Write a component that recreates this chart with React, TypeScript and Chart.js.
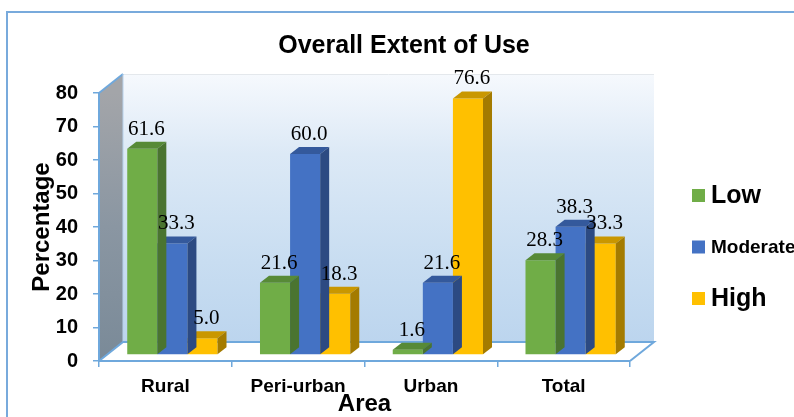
import React, { useEffect, useRef } from 'react';
import { Chart, registerables } from 'chart.js';

Chart.register(...registerables);

const categories = ['Rural', 'Peri-urban', 'Urban', 'Total'];
const lowValues = [61.6, 21.6, 1.6, 28.3];
const moderateValues = [33.3, 60.0, 21.6, 38.3];
const highValues = [5.0, 18.3, 76.6, 33.3];
const seriesNames = ['Low', 'Moderate', 'High'];
const chartTitle = 'Overall Extent of Use';
const yAxisTitle = 'Percentage';
const xAxisTitle = 'Area';

const SANS = '"Liberation Sans", Arial, sans-serif';
const SERIF = '"Liberation Serif", "Times New Roman", serif';
const FRONT = ['#70AD47', '#4472C4', '#FFC000'];
const TOP = ['#578a37', '#34599c', '#c99700'];
const SIDE = ['#4a7430', '#2c4a82', '#a47b00'];
const AXIS_BLUE = '#6fa8dc';

// 3D geometry (pixels)
const WALL_DX = 24;
const WALL_DY = 19;
const BAR_SHIFT_X = 7;
const BAR_SHIFT_Y = 6;
const BAR_DX = 9;
const BAR_DY = 7;

const backgroundPlugin = {
  id: 'bg3d',
  beforeDraw(chart: any) {
    const { ctx, chartArea: a, width, height } = chart;
    ctx.save();
    ctx.fillStyle = '#ffffff';
    ctx.fillRect(0, 0, width, height);

    // outer frame
    ctx.strokeStyle = '#78aadc';
    ctx.lineWidth = 2;
    ctx.strokeRect(7, 12, width + 20, height + 20);

    // back wall
    const wt = a.top - WALL_DY;
    const wb = a.bottom - WALL_DY;
    const g = ctx.createLinearGradient(0, wt, 0, wb);
    g.addColorStop(0, '#f6f9fd');
    g.addColorStop(0.3, '#dce9f6');
    g.addColorStop(0.7, '#c8ddf1');
    g.addColorStop(1, '#bcd5ee');
    ctx.fillStyle = g;
    ctx.fillRect(a.left + WALL_DX, wt, a.right - a.left, a.bottom - a.top);
    ctx.strokeStyle = '#e4e8ec';
    ctx.lineWidth = 1;
    ctx.beginPath();
    ctx.moveTo(a.left + WALL_DX, wt + 0.5);
    ctx.lineTo(a.right + WALL_DX, wt + 0.5);
    ctx.stroke();

    // left wall
    const lg = ctx.createLinearGradient(0, a.top, 0, a.bottom);
    lg.addColorStop(0, '#a3a5a9');
    lg.addColorStop(0.5, '#8a96a2');
    lg.addColorStop(1, '#7a8a98');
    ctx.fillStyle = lg;
    ctx.beginPath();
    ctx.moveTo(a.left, a.top);
    ctx.lineTo(a.left + WALL_DX, wt);
    ctx.lineTo(a.left + WALL_DX, wb);
    ctx.lineTo(a.left, a.bottom);
    ctx.closePath();
    ctx.fill();
    ctx.strokeStyle = AXIS_BLUE;
    ctx.lineWidth = 2;
    ctx.beginPath();
    ctx.moveTo(a.left, a.top);
    ctx.lineTo(a.left + WALL_DX, wt);
    ctx.stroke();
    ctx.strokeStyle = '#b8d2ec';
    ctx.lineWidth = 1;
    ctx.beginPath();
    ctx.moveTo(a.left + WALL_DX, wt);
    ctx.lineTo(a.left + WALL_DX, wb);
    ctx.stroke();

    // floor
    ctx.fillStyle = '#ffffff';
    ctx.beginPath();
    ctx.moveTo(a.left, a.bottom);
    ctx.lineTo(a.left + WALL_DX, wb);
    ctx.lineTo(a.right + WALL_DX, wb);
    ctx.lineTo(a.right, a.bottom);
    ctx.closePath();
    ctx.fill();
    ctx.strokeStyle = AXIS_BLUE;
    ctx.lineWidth = 2;
    ctx.beginPath();
    ctx.moveTo(a.left, a.bottom);
    ctx.lineTo(a.left + WALL_DX, wb);
    ctx.lineTo(a.right + WALL_DX, wb);
    ctx.lineTo(a.right, a.bottom);
    ctx.stroke();
    ctx.restore();
  },
  beforeDatasetsDraw(chart: any) {
    chart.ctx.save();
    chart.ctx.translate(BAR_SHIFT_X, -BAR_SHIFT_Y);
  },
  afterDatasetDraw(chart: any, args: any) {
    const ctx = chart.ctx;
    const i = args.index;
    args.meta.data.forEach((el: any) => {
      const { x, y, base, width } = el.getProps(['x', 'y', 'base', 'width'], true);
      const l = x - width / 2;
      const r = x + width / 2;
      ctx.fillStyle = TOP[i];
      ctx.beginPath();
      ctx.moveTo(l, y);
      ctx.lineTo(l + BAR_DX, y - BAR_DY);
      ctx.lineTo(r + BAR_DX, y - BAR_DY);
      ctx.lineTo(r, y);
      ctx.closePath();
      ctx.fill();
      ctx.fillStyle = SIDE[i];
      ctx.beginPath();
      ctx.moveTo(r, y);
      ctx.lineTo(r + BAR_DX, y - BAR_DY);
      ctx.lineTo(r + BAR_DX, base - BAR_DY);
      ctx.lineTo(r, base);
      ctx.closePath();
      ctx.fill();
    });
  },
  afterDatasetsDraw(chart: any) {
    const ctx = chart.ctx;
    ctx.font = `21px ${SERIF}`;
    ctx.fillStyle = '#000';
    ctx.textAlign = 'center';
    ctx.textBaseline = 'alphabetic';
    chart.data.datasets.forEach((ds: any, di: number) => {
      const meta = chart.getDatasetMeta(di);
      meta.data.forEach((el: any, j: number) => {
        const { x, y } = el.getProps(['x', 'y'], true);
        ctx.fillText(Number(ds.data[j]).toFixed(1), x + 4, y - 14);
      });
    });
    ctx.restore();
  },
  afterDraw(chart: any) {
    const { ctx, chartArea: a } = chart;
    ctx.save();
    // title
    ctx.fillStyle = '#000';
    ctx.font = `bold 25px ${SANS}`;
    ctx.textAlign = 'center';
    ctx.textBaseline = 'alphabetic';
    ctx.fillText(chartTitle, 404, 53);
    // legend
    const sizes = [25, 19, 25];
    const legendX = a.right + 62;
    const legendTop = 195.5;
    const gap = 51.5;
    ctx.textAlign = 'left';
    ctx.textBaseline = 'middle';
    chart.data.datasets.forEach((ds: any, i: number) => {
      const cy = legendTop + i * gap;
      ctx.fillStyle = FRONT[i];
      ctx.fillRect(legendX, cy - 6.5, 13, 13);
      ctx.fillStyle = '#000';
      ctx.font = `bold ${sizes[i]}px ${SANS}`;
      ctx.fillText(ds.label, legendX + 19, cy + 1);
    });
    ctx.restore();
  },
};

export default function App() {
  const ref = useRef<HTMLCanvasElement>(null);
  useEffect(() => {
    const canvas = ref.current;
    if (!canvas) return;
    const chart = new Chart(canvas, {
      type: 'bar',
      data: {
        labels: categories,
        datasets: [lowValues, moderateValues, highValues].map((vals, i) => ({
          label: seriesNames[i],
          data: vals,
          backgroundColor: FRONT[i],
          borderWidth: 0,
          clip: false as any,
          categoryPercentage: 0.68,
          barPercentage: 1,
        })),
      },
      options: {
        responsive: false,
        animation: false,
        events: [],
        layout: { padding: { top: 93, right: 164, bottom: 0, left: 0 } },
        plugins: {
          legend: { display: false },
          title: { display: false },
          tooltip: { enabled: false },
        },
        scales: {
          x: {
            grid: {
              drawOnChartArea: false,
              drawTicks: true,
              tickLength: 6,
              color: AXIS_BLUE,
              lineWidth: 1.5,
            },
            border: { display: true, color: AXIS_BLUE, width: 2 },
            ticks: {
              color: '#000',
              font: { family: SANS, size: 19, weight: 'bold' },
              padding: 8,
            },
            title: {
              display: true,
              text: xAxisTitle,
              color: '#000',
              font: { family: SANS, size: 24, weight: 'bold', lineHeight: 1 },
              padding: { top: 0, bottom: 1 },
            },
            afterFit: (s: any) => {
              s.height = 56;
            },
          },
          y: {
            min: 0,
            max: 80,
            ticks: {
              stepSize: 10,
              color: '#000',
              font: { family: SANS, size: 20, weight: 'bold' },
              padding: 15,
            },
            grid: {
              drawOnChartArea: false,
              drawTicks: true,
              tickLength: 6,
              color: AXIS_BLUE,
              lineWidth: 1.5,
            },
            border: { display: true, color: AXIS_BLUE, width: 2 },
            title: {
              display: true,
              text: yAxisTitle,
              color: '#000',
              font: { family: SANS, size: 24, weight: 'bold', lineHeight: 1.2 },
              padding: { top: 28, bottom: 0 },
            },
            afterFit: (s: any) => {
              s.width = 99;
            },
          },
        },
      },
      plugins: [backgroundPlugin],
    });
    return () => chart.destroy();
  }, []);
  return (
    <div style={{ position: 'fixed', left: 0, top: 0, width: 794, height: 417, background: '#fff' }}>
      <canvas ref={ref} width={794} height={417} style={{ display: 'block' }} />
    </div>
  );
}
